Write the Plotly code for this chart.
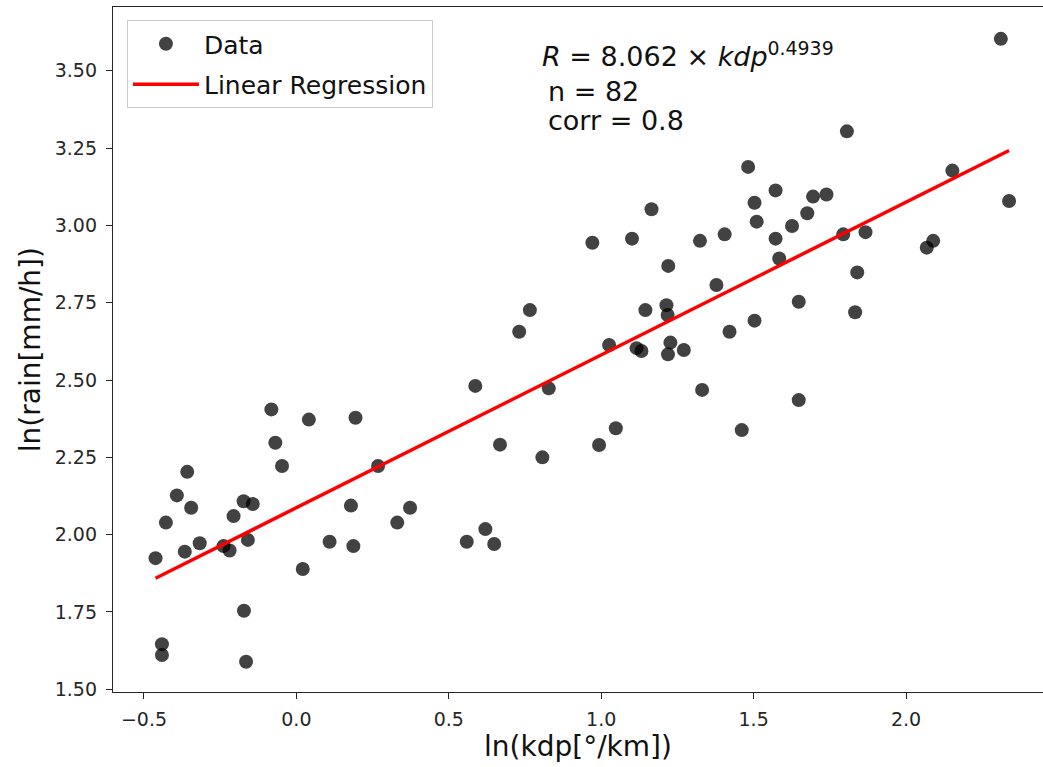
import numpy as np
import plotly.graph_objects as go

# ln(kdp) values (x) and ln(rain) values (y)
ln_kdp = [
    -0.082, 0.041, 0.194, -0.069, -0.047, -0.358, -0.392, -0.345, -0.428, -0.173,
    -0.143, -0.206, 0.268, 0.179, 0.373, 0.331, -0.317, -0.366, -0.462, -0.239,
    -0.219, -0.159, 0.109, 0.187, 0.021, -0.172, -0.441, -0.441, -0.165,
    0.766, 0.731, 0.587, 0.828, 0.668, 0.807, 0.620, 0.559, 0.649,
    2.311, 1.806, 1.482, 2.152, 1.572, 1.503, 1.695, 1.739, 2.338, 1.165,
    1.676, 1.510, 1.626, 0.971, 1.101, 1.324, 1.405, 1.572, 1.794, 1.867,
    2.068, 2.089, 1.220, 1.584, 1.378, 1.840, 1.145, 1.214, 1.218, 1.648,
    1.833, 1.503, 1.421, 1.026, 1.116, 1.132, 1.227, 1.219, 1.271, 1.331,
    1.648, 1.048, 0.993, 1.461,
]
ln_rain = [
    2.405, 2.372, 2.378, 2.297, 2.222, 2.203, 2.127, 2.087, 2.039, 2.108,
    2.099, 2.060, 2.222, 2.094, 2.087, 2.039, 1.972, 1.945, 1.924, 1.963,
    1.949, 1.983, 1.977, 1.963, 1.889, 1.754, 1.646, 1.611, 1.589,
    2.726, 2.656, 2.481, 2.473, 2.291, 2.250, 2.018, 1.977, 1.970,
    3.603, 3.304, 3.189, 3.177, 3.113, 3.073, 3.093, 3.100, 3.079, 3.052,
    3.039, 3.012, 2.998, 2.944, 2.957, 2.950, 2.971, 2.957, 2.971, 2.978,
    2.928, 2.950, 2.869, 2.893, 2.807, 2.848, 2.726, 2.742, 2.710, 2.753,
    2.719, 2.692, 2.656, 2.613, 2.603, 2.594, 2.621, 2.583, 2.597, 2.468,
    2.435, 2.344, 2.290, 2.338,
]

# Regression parameters: R = a * kdp^b
coef_a = 8.062
coef_b = 0.4939
n_obs = 82
corr = 0.8

x_ticks = [-0.5, 0.0, 0.5, 1.0, 1.5, 2.0]
y_ticks = [1.50, 1.75, 2.00, 2.25, 2.50, 2.75, 3.00, 3.25, 3.50]

xs = np.array(ln_kdp)
line_x = np.array([xs.min(), xs.max()])
line_y = np.log(coef_a) + coef_b * line_x

FONT = "DejaVu Sans"
INK = "#262626"

fig = go.Figure()
fig.add_trace(go.Scatter(
    x=ln_kdp, y=ln_rain, mode="markers", name="Data", legendgroup="a",
    marker=dict(size=14, color="rgba(0,0,0,0.74)", line=dict(width=0)),
))
fig.add_trace(go.Scatter(
    x=line_x, y=line_y, mode="lines", name="Linear Regression", legendgroup="b",
    line=dict(color="#ff0000", width=3.5),
))

ann_font = dict(family=FONT, size=27, color="#111111")
fig.add_annotation(
    xref="paper", yref="paper", x=0.459, y=0.930, xanchor="left", yanchor="middle",
    text=f"<i>R</i> = {coef_a:.3f} × <i>kdp</i><sup>{coef_b:.4f}</sup>",
    showarrow=False, font=ann_font,
)
fig.add_annotation(
    xref="paper", yref="paper", x=0.466, y=0.876, xanchor="left", yanchor="middle",
    text=f"n = {n_obs}", showarrow=False, font=ann_font,
)
fig.add_annotation(
    xref="paper", yref="paper", x=0.466, y=0.8336, xanchor="left", yanchor="middle",
    text=f"corr = {corr}", showarrow=False, font=ann_font,
)
# y-axis title
fig.add_annotation(
    xref="paper", yref="paper", x=-0.0885, y=0.5, xanchor="center", yanchor="middle",
    text="ln(rain[mm/h])", textangle=-90, showarrow=False,
    font=dict(family=FONT, size=28, color="#111111"),
)

fig.update_layout(
    width=1043, height=767,
    margin=dict(l=113, r=0, t=7, b=75, autoexpand=False),
    paper_bgcolor="white", plot_bgcolor="white",
    font=dict(family=FONT, color=INK),
    showlegend=True,
    legend=dict(
        x=0.015, y=0.981, xanchor="left", yanchor="top",
        bgcolor="rgba(255,255,255,0.8)", bordercolor="#cccccc", borderwidth=1,
        font=dict(family=FONT, size=25, color="#111111"),
        itemwidth=66, tracegroupgap=5,
    ),
)
fig.update_xaxes(
    range=[-0.6015, 2.4493], tickvals=x_ticks, tickformat=".1f",
    showgrid=False, zeroline=False, showline=True, linecolor=INK, linewidth=1.3,
    mirror=True, ticks="outside", ticklen=6, tickwidth=1.2, tickcolor=INK,
    tickfont=dict(family=FONT, size=19, color=INK), ticklabelstandoff=4,
    automargin=False,
    title=dict(text="ln(kdp[°/km])", font=dict(family=FONT, size=28, color="#111111"), standoff=6),
)
fig.update_yaxes(
    range=[1.4913, 3.706], tickvals=y_ticks, tickformat=".2f",
    showgrid=False, zeroline=False, showline=True, linecolor=INK, linewidth=1.3,
    ticks="outside", ticklen=6, tickwidth=1.2, tickcolor=INK,
    tickfont=dict(family=FONT, size=19, color=INK), ticklabelstandoff=5,
    automargin=False,
)

fig.write_html(
    "out.html",
    config={"displayModeBar": False},
    post_script="document.body.style.margin='0';",
)
